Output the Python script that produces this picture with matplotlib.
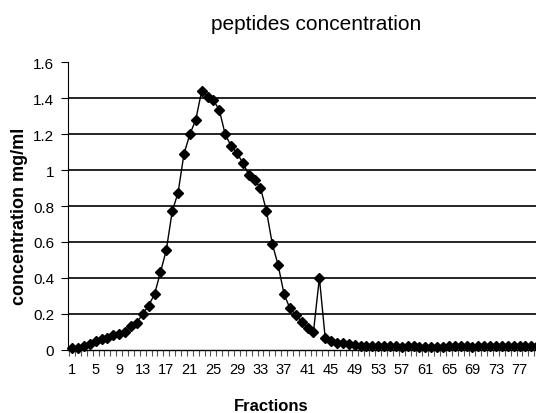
import numpy as np
import matplotlib.pyplot as plt

# values, fraction 1..80
fractions = np.arange(1, 81)
conc = [0.01, 0.01, 0.02, 0.03, 0.05, 0.06, 0.065, 0.08, 0.09, 0.10,
        0.13, 0.15, 0.20, 0.245, 0.31, 0.43, 0.555, 0.77, 0.875, 1.09,
        1.20, 1.28, 1.44, 1.41, 1.39, 1.335, 1.20, 1.135, 1.095, 1.04,
        0.975, 0.945, 0.90, 0.775, 0.59, 0.47, 0.31, 0.23, 0.195, 0.155,
        0.12, 0.10, 0.40, 0.063, 0.05, 0.04, 0.035, 0.03, 0.025, 0.022,
        0.02, 0.02, 0.018, 0.02, 0.018, 0.02, 0.017, 0.02, 0.018, 0.015,
        0.017, 0.015, 0.014, 0.016, 0.018, 0.02, 0.018, 0.02, 0.017, 0.02,
        0.018, 0.02, 0.02, 0.018, 0.02, 0.02, 0.018, 0.02, 0.022, 0.02]
xtick_labels = list(range(1, 78, 4))
yticks = [0, 0.2, 0.4, 0.6, 0.8, 1, 1.2, 1.4, 1.6]

plt.rcParams['font.family'] = 'Liberation Sans'

fig = plt.figure(figsize=(5.36, 4.14), dpi=100)
ax = fig.add_axes([68/536, 1 - 350.7/414, 1 - 68/536, 287.3/414])

# gridlines at 0.2 .. 1.4 only
for v in yticks[1:-1]:
    ax.axhline(v, color='black', lw=1.2, zorder=1)

ax.plot(fractions, conc, color='black', lw=1, marker='D', markersize=4.8,
        markerfacecolor='black', markeredgecolor='black', zorder=3, clip_on=False)

ax.set_xlim(0.3, 79.8)
ax.set_ylim(0, 1.6)
ax.set_yticks(yticks)
ax.set_yticklabels(['0', '0.2', '0.4', '0.6', '0.8', '1', '1.2', '1.4', '1.6'])
ax.set_xticks(xtick_labels)
ax.set_xticklabels([str(v) for v in xtick_labels])
ax.set_xticks(np.arange(0.5, 80, 1), minor=True)
ax.tick_params(axis='x', which='major', length=0, pad=9, labelsize=10.5)
ax.tick_params(axis='x', which='minor', length=4, width=0.8, color='#555555')
ax.tick_params(axis='y', length=5, width=0.8, pad=5, labelsize=11)

for s in ['top', 'right']:
    ax.spines[s].set_visible(False)
ax.spines['left'].set_linewidth(0.8)
ax.spines['bottom'].set_linewidth(1.0)

fig.text(316.5/536, 1 - 25/414, 'peptides concentration', ha='center', va='center',
         fontsize=15)
fig.text(271/536, 1 - 407/414, 'Fractions', ha='center', va='center',
         fontsize=12, fontweight='bold')
fig.text(20/536, 1 - 216/414, 'concentration mg/ml', ha='center', va='center',
         rotation=90, fontsize=13, fontweight='bold')

fig.savefig('out.png', dpi=100)
